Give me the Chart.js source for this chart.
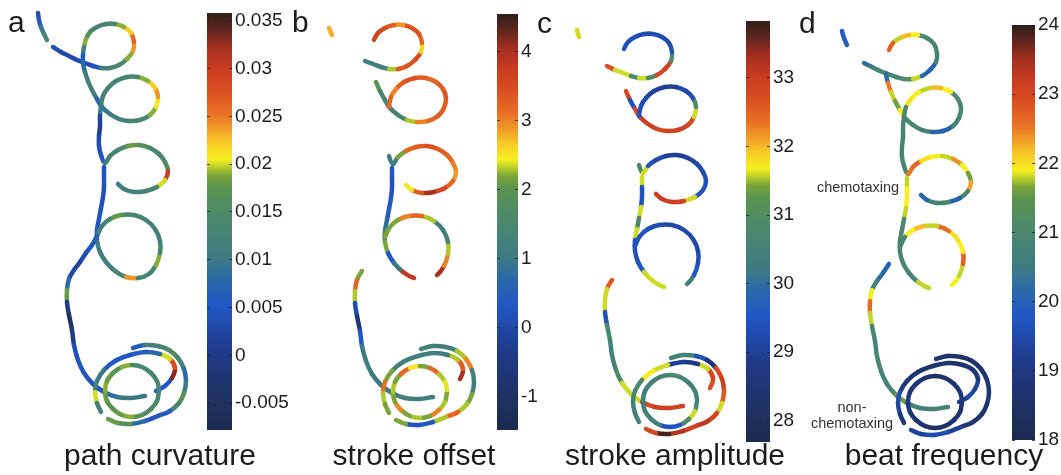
<!DOCTYPE html>
<html><head><meta charset="utf-8">
<script src="https://cdn.jsdelivr.net/npm/chart.js@4/dist/chart.umd.min.js"></script>
<style>
html,body{margin:0;padding:0;background:#fff}
body{width:1061px;height:475px;position:relative;overflow:hidden;font-family:"Liberation Sans",Arial,Helvetica,sans-serif;color:#1c1c1c}
canvas{position:absolute}
.t{position:absolute;white-space:nowrap;font-size:30px;line-height:30px}
.ttl{position:absolute;white-space:nowrap;font-size:30px;line-height:30px;width:300px;text-align:center}
.s{position:absolute;white-space:nowrap;font-size:14.5px;line-height:15px;width:120px;text-align:center;color:#333}
</style></head><body>

<canvas id="pa" width="200" height="460" style="left:0px;top:0px"></canvas>
<canvas id="pb" width="200" height="460" style="left:288px;top:1px"></canvas>
<canvas id="pc" width="200" height="460" style="left:538px;top:10px"></canvas>
<canvas id="pd" width="200" height="460" style="left:803px;top:11px"></canvas>

<canvas id="ca" width="85" height="445" style="left:207px;top:0px"></canvas>
<canvas id="cb" width="51" height="445" style="left:497px;top:0px"></canvas>
<canvas id="cc" width="60" height="457" style="left:746px;top:0px"></canvas>
<canvas id="cd" width="53" height="455" style="left:1012px;top:0px"></canvas>

<div class="t" style="left:8px;top:7px">a</div>
<div class="t" style="left:292px;top:7px">b</div>
<div class="t" style="left:537px;top:8px">c</div>
<div class="t" style="left:799px;top:8px">d</div>

<div class="ttl" style="left:10px;top:440px">path curvature</div>
<div class="ttl" style="left:264px;top:440px">stroke offset</div>
<div class="ttl" style="left:525px;top:440px">stroke amplitude</div>
<div class="ttl" style="left:794px;top:440px">beat frequency</div>

<div class="s" style="left:798px;top:180px">chemotaxing</div>
<div class="s" style="left:792px;top:400px">non-</div>
<div class="s" style="left:792px;top:416px">chemotaxing</div>

<script>
// ---- shared trajectory (same track in every panel), null = break ----
const pathX = [
  38,39,41,44,47, null,
  53,61,69,77,85,93,101,110,119,127,133,134,131,124,115,106,97,90,86,84,83,83,85,88,92,97,
  102,110,119,129,140,150,156,158,155,148,138,127,116,108,103,101,100,100,99,99,101,
  105,110,118,128,139,150,159,165,168,165,157,146,134,124,118, null,
  104,104,104,103,101,99,97,97,100,106,115,126,138,149,156,160,160,155,146,134,121,110,102,97,
  92,86,80,74,69,67,67,69,72,74,78,84,93,104,117,131,145, null,
  156,165,172,175,170,160,146,130,115,104,97,95,97,101, null,
  159,157,151,142,132,122,113,107,105,107,113,122,132,142,151,157,159, null,
  133,145,158,169,178,184,186,184,179,170,158,145,131,118,108
];
const pathY = [
  13,20,27,34,40, null,
  47,52,56,60,63,66,68,68,65,59,51,42,33,27,24,24,27,32,39,47,55,63,72,81,90,99,
  107,114,119,121,120,115,107,97,88,81,77,77,81,88,96,106,116,126,136,146,155,
  163,156,150,146,145,148,154,162,171,180,187,191,192,189,184, null,
  167,177,187,197,208,219,230,241,252,262,271,277,278,274,265,253,241,229,220,215,215,219,226,236,
  245,253,262,270,279,290,302,315,330,345,360,373,384,392,397,398,396, null,
  391,386,378,368,359,354,352,355,361,370,381,392,403,412, null,
  391,401,409,415,417,415,409,401,391,381,373,367,365,367,373,381,389, null,
  348,345,346,350,358,369,381,393,403,411,416,421,424,423,419
];

// ---- per-panel values along the track (null = not tracked) ----
const curvature = [
  0.004,0.006,0.010,0.013,0.014, null,
  0.004,0.003,0.003,0.004,0.004,0.005,
  0.012,0.013,0.014,0.019,0.024,0.026,0.022,0.019,0.014,0.013,0.013,0.016,0.019,0.012,
  0.006,0.008,0.011,0.012,0.012,0.007,
  0.009,0.011,0.012,0.013,0.014,0.019,0.021,0.024,0.022,0.019,0.014,0.013,0.013,0.013,0.012,0.010,
  0.002,0.001,0.003,0.004,0.005,
  0.012,0.013,0.014,0.018,0.016,0.014,0.013,0.016,0.030,0.020,0.013,0.012,0.012,0.011,0.010, null,
  0.005,0.005,0.004,0.004,0.005,0.005,0.006,
  0.011,0.012,0.012,0.013,0.024,0.013,0.013,0.019,0.013,0.012,0.012,0.013,0.013,0.018,0.013,0.012,0.007,
  0.005,0.004,0.002,0.003,0.008,0.018,0.000,-0.004,0.000,0.004,0.005,0.005,0.005,0.008,0.010,0.010,0.011, null,
  0.005,0.005,0.033,0.028,0.020,0.008,0.006,0.005,0.006,0.010,0.012,0.020,0.012,0.012, null,
  0.013,0.014,0.015,0.017,0.019,0.018,0.017,0.018,0.019,0.018,0.017,0.019,0.014,0.014,0.013,0.013,0.013, null,
  0.006,0.012,0.013,0.015,0.013,0.008,0.010,0.017,0.013,0.006,0.005,0.008,0.016,0.018,0.013
];
const strokeOffset = [
  null,null,2.8,null,null, null,
  null,null,null,
  1.2,1.2,1.3,2.3,3.3,3.4,3.5,2.6,3.2,3.4,3.4,2.9,3.3,3.5,3.6,
  null,null,null,null,null,
  2.0,1.4,1.3,1.3,1.5,2.3,3.0,3.2,3.3,3.3,3.4,3.3,3.2,3.3,3.4,3.3,3.0,3.2,
  null,null,null,null,null,
  1.1,1.2,2.2,3.2,3.3,3.4,3.3,3.2,3.0,2.9,3.2,3.6,4.0,3.3,2.5, null, null,
  0.3,0.2,0.2,0.3,0.5,0.8,1.2,2.2,0.3,1.0,3.8,
  null,null,
  4.0,3.0,2.3,1.4,1.2,2.3,3.2,3.0,2.2,2.2,
  null,null,null,null,
  2.2,3.2,2.3,0.1,-0.6,0.3,1.0,1.1,1.0,1.1,1.2,1.3,1.2,1.2, null,
  null,null,4.0,3.3,2.3,1.2,1.2,1.2,1.3,2.2,3.1,2.3,2.2,null, null,
  2.2,2.3,3.0,2.2,2.3,2.2,3.0,2.2,2.3,2.2,3.2,2.5,2.2,3.2,2.3,2.4,2.2, null,
  1.3,1.2,1.3,2.3,3.0,1.3,1.2,2.2,2.3,3.2,2.3,0.3,0.2,2.2,2.3
];
const strokeAmplitude = [
  null,31.6,null,null,null, null,
  null,null,
  32.7,31.6,31.6,30.8,31.6,31.0,32.8,32.9,30.8,29.4,29.3,29.3,29.3,29.3,29.4,29.4,
  null,null,null,null,null,
  32.8,29.4,32.8,33.0,33.0,32.8,32.9,33.0,32.8,31.6,30.8,29.3,29.2,29.0,29.0,29.1,29.3,29.4,
  null,null,null,null,null,
  30.8,31.6,29.4,29.2,29.0,29.0,29.1,29.2,29.3,29.4,29.4,31.6,32.9,33.0,33.0, null, null,
  31.6,29.4,29.4,31.6,30.8,31.6,29.4,29.4,29.5,31.6,31.6,
  null,null,
  30.5,29.5,29.3,29.2,29.2,29.2,29.2,29.3,29.4,29.4,
  null,null,null,null,
  32.6,31.6,31.6,29.4,30.8,30.5,30.6,30.8,31.6,31.6,32.8,33.0,32.9,33.0, null,
  null,null,32.7,32.8,31.6,28.8,29.0,31.6,31.7,30.8,30.6,30.5,30.5,30.5, null,
  30.6,31.6,30.8,29.5,29.4,30.5,30.5,30.5,30.4,30.4,30.5,30.6,30.8,30.6,30.5,30.5,30.6, null,
  30.6,30.5,29.4,28.5,32.8,33.0,32.6,31.6,32.9,33.1,32.9,33.2,33.7,32.8,32.6
];
const beatFrequency = [
  null,19.9,19.9,null,null, null,
  null,20.3,20.7,20.9,20.9,21.0,21.2,21.8,20.1,20.0,20.8,20.9,20.9,21.0,21.9,22.2,21.8,22.7,
  null,null,null,
  20.2,22.5,21.8,21.6,21.9,21.0,20.9,20.8,20.1,20.0,20.8,20.9,20.9,21.0,21.9,22.2,21.8,21.9,22.0,21.0,20.9,20.9,20.8,20.8,20.9,20.9,
  22.5,22.7,22.0,21.9,21.8,22.4,21.9,21.6,22.3,21.0,20.0,20.9,20.8,20.1,20.0, null,
  21.8,21.9,21.9,21.8,21.0,20.9,20.8,20.9,20.9,20.8,21.8,
  null,null,
  21.9,21.8,22.7,21.9,22.0,22.6,21.8,22.2,21.9,21.0,
  null,null,
  20.0,20.2,20.8,21.9,22.6,21.8,20.9,20.8,20.9,20.8,20.9,21.6,20.8,20.7,20.8,20.3, null,
  19.2,19.5,19.3,18.9,18.8,18.7,18.8,18.7,18.8,19.0,19.6,19.4,19.0,18.9, null,
  18.6,18.7,18.8,18.6,18.5,18.7,18.8,18.9,19.0,18.9,18.7,18.6,18.5,18.6,18.7,18.8,18.8, null,
  18.7,18.6,18.5,18.6,18.7,18.8,18.8,18.7,18.6,18.8,19.3,19.6,19.5,19.3,19.0
];

// ---- colour bar ranges and ticks ----
const curvatureRange = [-0.0078, 0.0358];
const curvatureTicks = [-0.005, 0, 0.005, 0.01, 0.015, 0.02, 0.025, 0.03, 0.035];
const curvatureTickLabels = ['-0.005','0','0.005','0.01','0.015','0.02','0.025','0.03','0.035'];
const offsetRange = [-1.48, 4.55];
const offsetTicks = [-1, 0, 1, 2, 3, 4];
const offsetTickLabels = ['-1','0','1','2','3','4'];
const amplitudeRange = [27.69, 33.83];
const amplitudeTicks = [28, 29, 30, 31, 32, 33];
const amplitudeTickLabels = ['28','29','30','31','32','33'];
const frequencyRange = [18, 24];
const frequencyTicks = [18, 19, 20, 21, 22, 23, 24];
const frequencyTickLabels = ['18','19','20','21','22','23','24'];

// ---- colormap (style) ----
const CMAP = [[0,'#1b2a4e'],[0.07,'#1e3160'],[0.19,'#1f3a88'],[0.30,'#2157c6'],[0.36,'#2a68a8'],
  [0.41,'#3d7a85'],[0.52,'#4e8a68'],[0.58,'#5a9450'],[0.61,'#7aa43a'],[0.635,'#c8d828'],
  [0.65,'#f8ef22'],[0.69,'#f8c828'],[0.72,'#f0a028'],[0.76,'#e87024'],[0.82,'#d84c22'],
  [0.87,'#c83c22'],[0.92,'#a02e20'],[0.96,'#60261c'],[1,'#2e1e1a']];
function hex(h){return [parseInt(h.slice(1,3),16),parseInt(h.slice(3,5),16),parseInt(h.slice(5,7),16)];}
function cmap(t){
  t = Math.max(0, Math.min(1, t));
  for (let i = 1; i < CMAP.length; i++) {
    if (t <= CMAP[i][0]) {
      const [s0,c0] = CMAP[i-1], [s1,c1] = CMAP[i];
      const f = (t - s0) / (s1 - s0 || 1);
      const a = hex(c0), b = hex(c1);
      return 'rgb(' + a.map((v,k)=>Math.round(v + (b[k]-v)*f)).join(',') + ')';
    }
  }
  return CMAP[CMAP.length-1][1];
}

const W = 200, H = 460;
function makePath(id, vals, range) {
  const [lo, hi] = range;
  const data = pathX.map((x, i) => ({x: x, y: pathY[i]}));
  new Chart(document.getElementById(id), {
    type: 'scatter',
    data: {datasets: [{
      data, showLine: true, pointRadius: 0, borderWidth: 4.5, tension: 0.4, spanGaps: false,
      borderColor: 'rgba(0,0,0,0)', borderCapStyle: 'round',
      segment: {borderColor: c => {
        const v = vals[c.p0DataIndex];
        return (v === null || v === undefined) ? 'rgba(0,0,0,0)' : cmap((v - lo) / (hi - lo));
      }}
    }]},
    options: {
      responsive: false, animation: false, events: [], devicePixelRatio: 1,
      layout: {padding: 0},
      plugins: {legend: {display: false}, tooltip: {enabled: false}},
      scales: {
        x: {type: 'linear', display: false, min: 0, max: W},
        y: {type: 'linear', display: false, min: 0, max: H, reverse: true}
      }
    }
  });
}

function makeBar(id, range, ticks, labels, barW, labelW, padTop, padBottom) {
  const [lo, hi] = range;
  new Chart(document.getElementById(id), {
    type: 'bar',
    data: {labels: [''], datasets: [{
      data: [[lo, hi]], barPercentage: 1, categoryPercentage: 1, borderWidth: 0, borderSkipped: false,
      backgroundColor: ctx => {
        const a = ctx.chart.chartArea;
        if (!a) return '#888';
        const g = ctx.chart.ctx.createLinearGradient(0, a.bottom, 0, a.top);
        CMAP.forEach(([s, c]) => g.addColorStop(s, c));
        return g;
      }
    }]},
    options: {
      responsive: false, animation: false, events: [], devicePixelRatio: 1,
      layout: {padding: {top: padTop, bottom: padBottom, left: 0, right: 0}},
      plugins: {legend: {display: false}, tooltip: {enabled: false}},
      scales: {
        x: {display: false},
        y: {
          position: 'right', min: lo, max: hi,
          afterBuildTicks: s => { s.ticks = ticks.map(v => ({value: v})); },
          afterFit: s => { s.width = labelW; s.paddingTop = 0; s.paddingBottom = 0; },
          ticks: {autoSkip: false, padding: 3, color: '#1c1c1c',
                  font: {family: '"Liberation Sans", Arial, sans-serif', size: 19},
                  callback: (v, i) => labels[i]},
          grid: {drawTicks: false, drawOnChartArea: true, color: 'rgba(25,25,25,0.75)', lineWidth: 1, z: 1},
          border: {display: false, dash: [3, barW - 6]}
        }
      }
    }
  });
}

makePath('pa', curvature, curvatureRange);
makePath('pb', strokeOffset, offsetRange);
makePath('pc', strokeAmplitude, amplitudeRange);
makePath('pd', beatFrequency, frequencyRange);

makeBar('ca', curvatureRange, curvatureTicks, curvatureTickLabels, 25, 60, 13, 15);
makeBar('cb', offsetRange, offsetTicks, offsetTickLabels, 21, 30, 14, 15);
makeBar('cc', amplitudeRange, amplitudeTicks, amplitudeTickLabels, 24, 36, 21, 15);
makeBar('cd', frequencyRange, frequencyTicks, frequencyTickLabels, 23, 30, 25, 15);
</script>
</body></html>
